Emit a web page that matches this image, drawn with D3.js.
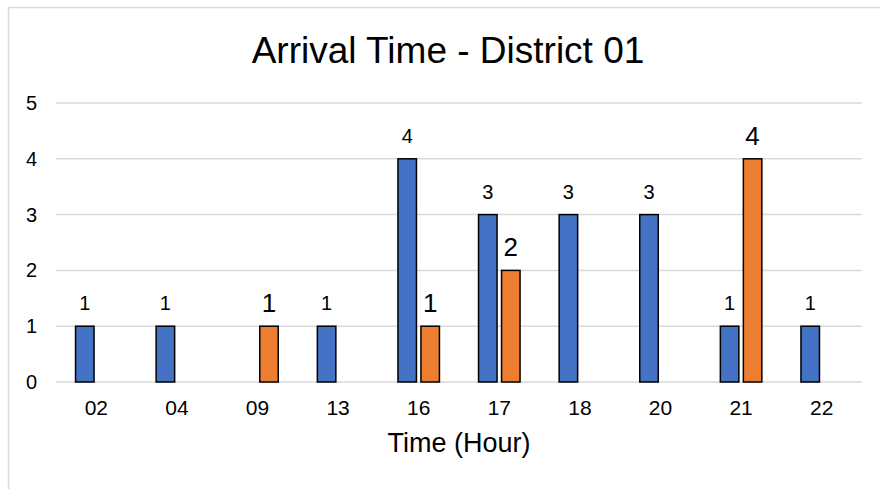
<!DOCTYPE html>
<html>
<head>
<meta charset="utf-8">
<script src="https://cdn.jsdelivr.net/npm/d3@7"></script>
<style>
  html, body { margin: 0; padding: 0; background: #fff; }
  svg { display: block; font-family: "Liberation Sans", Arial, sans-serif; }
</style>
</head>
<body>
<svg id="chart" width="880" height="489"></svg>
<script>
const categories = ["02", "04", "09", "13", "16", "17", "18", "20", "21", "22"];
const seriesNames = ["Series A", "Series B"];
const seriesA = [1, 1, null, 1, 4, 3, 3, 3, 1, 1];
const seriesB = [null, null, 1, null, 1, 2, null, null, 4, null];
const yTicks = [0, 1, 2, 3, 4, 5];
const colors = ["#4472C4", "#ED7D31"];
const titleText = "Arrival Time - District 01";
const xTitle = "Time (Hour)";

const svg = d3.select("#chart");
const W = 880, H = 489;
const plot = { left: 56, right: 862, top: 103, bottom: 382 };

// frame
svg.append("path")
  .attr("d", `M8.5,${H} V7.5 H${W}`)
  .attr("fill", "none").attr("stroke", "#d9d9d9").attr("stroke-width", 1.5);

const x0 = d3.scaleBand().domain(categories).range([plot.left, plot.right]).paddingInner(0).paddingOuter(0);
const groupW = 41.5;
const x1 = d3.scaleBand().domain([0, 1]).range([0, groupW]).paddingInner(0.1957).paddingOuter(0);
const y = d3.scaleLinear().domain([0, 5]).range([plot.bottom, plot.top]);

// gridlines
svg.append("g").selectAll("line").data(yTicks).join("line")
  .attr("x1", plot.left).attr("x2", plot.right)
  .attr("y1", d => y(d)).attr("y2", d => y(d))
  .attr("stroke", "#d9d9d9").attr("stroke-width", 1.5);

// y axis labels
const yAxis = d3.axisLeft(y).tickValues(yTicks).tickSize(0).tickPadding(0).tickFormat(d3.format("d"));
const yg = svg.append("g").attr("transform", `translate(37,0)`).call(yAxis);
yg.select(".domain").remove();
yg.selectAll("text").attr("font-size", 20).attr("fill", "#000").attr("font-family", "Liberation Sans, Arial, sans-serif");

// x axis labels
const xAxis = d3.axisBottom(x0).tickSize(0).tickPadding(0);
const xg = svg.append("g").attr("transform", `translate(0,${plot.bottom})`).call(xAxis);
xg.select(".domain").remove();
xg.selectAll("text").attr("font-size", 21).attr("fill", "#000").attr("dy", null).attr("y", 33)
  .attr("font-family", "Liberation Sans, Arial, sans-serif");

const series = [seriesA, seriesB];
const labelSizes = [20, 26];
const labelGaps = [16, 14];
const offset = (x0.bandwidth() - groupW) / 2;

series.forEach((vals, si) => {
  const data = categories.map((c, i) => ({ c, v: vals[i] })).filter(d => d.v != null);
  const g = svg.append("g");
  g.selectAll("rect").data(data).join("rect")
    .attr("x", d => x0(d.c) + offset + x1(si))
    .attr("width", x1.bandwidth())
    .attr("y", d => y(d.v))
    .attr("height", d => y(0) - y(d.v))
    .attr("fill", colors[si])
    .attr("stroke", "#000").attr("stroke-width", 1.5);
  g.selectAll("text").data(data).join("text")
    .attr("x", d => x0(d.c) + offset + x1(si) + x1.bandwidth() / 2)
    .attr("y", d => y(d.v) - labelGaps[si])
    .attr("text-anchor", "middle")
    .attr("font-size", labelSizes[si])
    .attr("fill", "#000")
    .text(d => d.v);
});

// titles
svg.append("text").attr("x", 448).attr("y", 63).attr("text-anchor", "middle")
  .attr("font-size", 37).attr("fill", "#000").text(titleText);
svg.append("text").attr("x", (plot.left + plot.right) / 2).attr("y", 452).attr("text-anchor", "middle")
  .attr("font-size", 27).attr("fill", "#000").text(xTitle);
</script>
</body>
</html>
